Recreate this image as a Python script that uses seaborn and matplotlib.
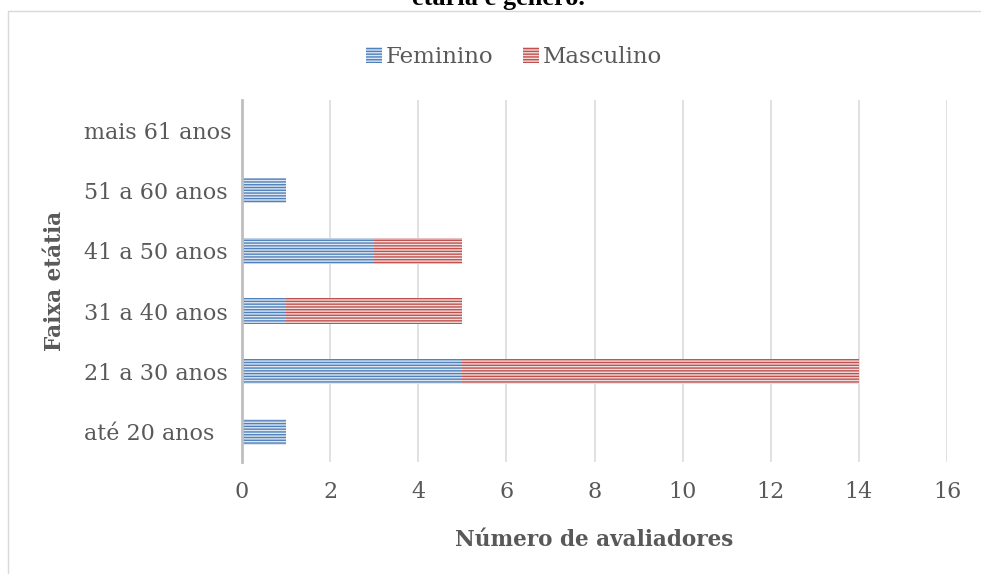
import matplotlib
matplotlib.use("Agg")
import matplotlib.pyplot as plt
import seaborn as sns
from matplotlib.patches import Patch
from matplotlib.lines import Line2D

sns.set_style("white")
plt.rcParams.update({
    "font.family": ["DejaVu Serif"],
    "hatch.linewidth": 1.0,
})

# dados (de cima para baixo no gráfico)
faixas = ["mais 61 anos", "51 a 60 anos", "41 a 50 anos", "31 a 40 anos", "21 a 30 anos", "até 20 anos"]
feminino = [0, 1, 3, 1, 5, 1]
masculino = [0, 0, 2, 4, 9, 0]
total = [f + m for f, m in zip(feminino, masculino)]

cor_fem = "#4F81BD"
cor_fem_bg = "#dce6f2"
cor_masc = "#C0504D"
cor_masc_bg = "#f2dcdb"
cinza = "#595959"
W, H = 981, 574

fig = plt.figure(figsize=(W / 100, H / 100), dpi=100)
ax = fig.add_axes([242 / W, 1 - 462 / H, (947 - 242) / W, (462 - 100) / H])

sns.barplot(x=total, y=faixas, order=faixas, orient="h", width=0.42,
            color=cor_masc_bg, ax=ax, zorder=3)
sns.barplot(x=feminino, y=faixas, order=faixas, orient="h", width=0.42,
            color=cor_fem_bg, ax=ax, zorder=3)

for bar in ax.containers[0]:
    bar.set_edgecolor(cor_masc)
    bar.set_hatch("------")
    bar.set_linewidth(0)
for bar in ax.containers[1]:
    bar.set_edgecolor(cor_fem)
    bar.set_hatch("------")
    bar.set_linewidth(0)

ax.set_xlim(0, 16)
ax.set_ylim(5.5, -0.5)
ax.set_xticks(range(0, 17, 2))
ax.grid(axis="x", color="#d9d9d9", linewidth=1.1, zorder=0)
ax.grid(axis="y", visible=False)
for s in ["top", "right", "bottom"]:
    ax.spines[s].set_visible(False)
ax.spines["left"].set_color("#bfbfbf")
ax.spines["left"].set_linewidth(2)
ax.spines["left"].set_zorder(4)

ax.tick_params(axis="x", length=0, pad=14, labelsize=16, labelcolor=cinza)
ax.tick_params(axis="y", length=0, pad=114, labelsize=16, labelcolor=cinza)
for lbl in ax.get_yticklabels():
    lbl.set_ha("left")

ax.set_xlabel("Número de avaliadores", fontsize=15.5, fontweight="bold", color=cinza)
ax.set_ylabel("Faixa etátia", fontsize=15.5, fontweight="bold", color=cinza)
ax.xaxis.set_label_coords(0.5, -(540 - 462) / (462 - 100))
ax.yaxis.set_label_coords(-(242 - 55) / (947 - 242), 0.5)
ax.xaxis.label.set_va("center")
ax.yaxis.label.set_va("center")

handles = [
    Patch(facecolor=cor_fem_bg, edgecolor=cor_fem, hatch="------", linewidth=0, label="Feminino"),
    Patch(facecolor=cor_masc_bg, edgecolor=cor_masc, hatch="------", linewidth=0, label="Masculino"),
]
fig.legend(handles=handles, loc="center", bbox_to_anchor=(514 / W, 1 - 57 / H), ncol=2,
           frameon=False, fontsize=16.5, labelcolor=cinza, handlelength=0.7, handleheight=0.7,
           handletextpad=0.15, columnspacing=1.3)

# moldura da área do gráfico e título cortado
fig.add_artist(Line2D([7.5 / W, 1], [1 - 10.5 / H, 1 - 10.5 / H], transform=fig.transFigure,
                      color="#d9d9d9", linewidth=1))
fig.add_artist(Line2D([7.5 / W, 7.5 / W], [0, 1 - 10.5 / H], transform=fig.transFigure,
                      color="#d9d9d9", linewidth=1))
fig.text(498 / W, 1 - 5 / H, "etária e gênero.", ha="center", va="baseline",
         fontsize=19, fontweight="bold", family="Liberation Serif", color="black")

fig.savefig("out.png", dpi=100)
